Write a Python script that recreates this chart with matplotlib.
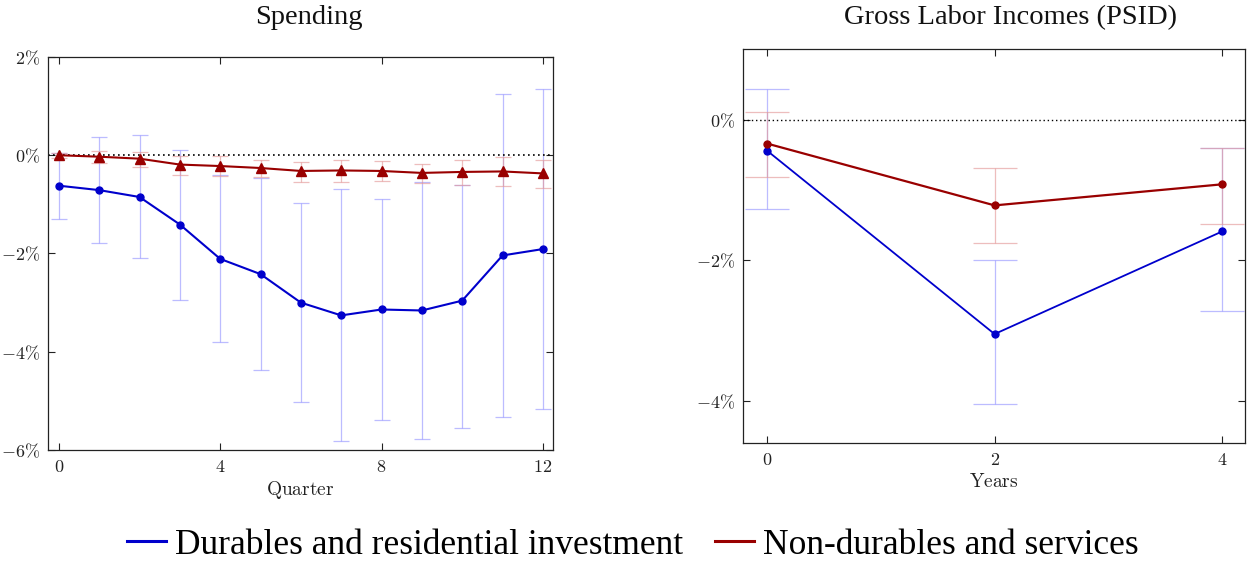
import matplotlib
matplotlib.use("Agg")
import matplotlib.pyplot as plt
from matplotlib.lines import Line2D
import numpy as np

plt.rcParams['mathtext.fontset'] = 'cm'

# ---------------- data ----------------
quarters = [0, 1, 2, 3, 4, 5, 6, 7, 8, 9, 10, 11, 12]
dur_q = [-0.62, -0.71, -0.85, -1.41, -2.11, -2.42, -3.00, -3.26, -3.14, -3.16, -2.96, -2.04, -1.91]
dur_q_hi = [0.05, 0.38, 0.41, 0.11, -0.41, -0.46, -0.97, -0.68, -0.89, -0.55, -0.61, 1.25, 1.34]
dur_q_lo = [-1.30, -1.79, -2.09, -2.94, -3.80, -4.37, -5.03, -5.81, -5.38, -5.77, -5.55, -5.32, -5.16]
nd_q = [0.0, -0.03, -0.07, -0.19, -0.22, -0.26, -0.32, -0.31, -0.32, -0.36, -0.34, -0.33, -0.37]
nd_q_hi = [0.05, 0.09, 0.07, -0.02, -0.02, -0.09, -0.13, -0.10, -0.12, -0.17, -0.09, -0.04, -0.09]
nd_q_lo = [-0.05, -0.16, -0.24, -0.40, -0.43, -0.44, -0.55, -0.54, -0.53, -0.57, -0.61, -0.62, -0.67]

years = [0, 2, 4]
dur_y = [-0.44, -3.05, -1.59]
dur_y_hi = [0.44, -2.00, -0.41]
dur_y_lo = [-1.27, -4.04, -2.72]
nd_y = [-0.34, -1.22, -0.92]
nd_y_hi = [0.11, -0.69, -0.41]
nd_y_lo = [-0.81, -1.76, -1.49]

left_yticks = [2, 0, -2, -4, -6]
left_xticks = [0, 4, 8, 12]
right_yticks = [0, -2, -4]
right_xticks = [0, 2, 4]

titles = ["Spending", "Gross Labor Incomes (PSID)"]
xlabels = ["Quarter", "Years"]
legend_labels = ["Durables and residential investment", "Non-durables and services"]

BLUE = '#0000CC'
RED = '#990000'
BLUE_E = '#9999FF'
RED_E = '#E49A9A'
SERIF = ['Liberation Serif', 'DejaVu Serif']

fig = plt.figure(figsize=(12.49, 5.63), dpi=100)
ax1 = fig.add_axes([0.0384, 0.2007, 0.4043, 0.6981])
ax2 = fig.add_axes([0.5949, 0.2131, 0.4019, 0.6993])


def yerr(v, lo, hi):
    v = np.asarray(v); lo = np.asarray(lo); hi = np.asarray(hi)
    return [v - lo, hi - v]


def style(ax, xt, yt):
    ax.set_xticks(xt)
    ax.set_xticklabels([r'$%d$' % t for t in xt])
    ax.set_yticks(yt)
    ax.set_yticklabels([r'$%d\%%$' % t for t in yt])
    ax.tick_params(direction='in', top=True, right=True, length=5, width=0.8,
                   labelsize=13, colors='#222222', pad=6)
    for s in ax.spines.values():
        s.set_color('#222222')
        s.set_linewidth(0.9)


# left panel
ax1.errorbar(quarters, dur_q, yerr=yerr(dur_q, dur_q_lo, dur_q_hi), fmt='none',
             ecolor=BLUE_E, elinewidth=0.9, capsize=6, capthick=0.9, alpha=0.65, zorder=1)
ax1.errorbar(quarters, nd_q, yerr=yerr(nd_q, nd_q_lo, nd_q_hi), fmt='none',
             ecolor=RED_E, elinewidth=0.9, capsize=6, capthick=0.9, alpha=0.65, zorder=1)
ax1.axhline(0, color='black', linestyle=(0, (1, 2)), linewidth=1.2, zorder=2)
ax1.plot(quarters, dur_q, color=BLUE, marker='o', markersize=5, linewidth=1.5, zorder=3)
ax1.plot(quarters, nd_q, color=RED, marker='^', markersize=6.5, linewidth=1.5, zorder=3)
ax1.set_xlim(-0.27, 12.25)
ax1.set_ylim(-6, 2)
style(ax1, left_xticks, left_yticks)
ax1.set_xlabel(r'$\mathrm{%s}$' % xlabels[0], fontsize=14, color='#222222', labelpad=2)

# right panel
ax2.errorbar(years, dur_y, yerr=yerr(dur_y, dur_y_lo, dur_y_hi), fmt='none',
             ecolor=BLUE_E, elinewidth=0.9, capsize=16, capthick=0.9, alpha=0.65, zorder=1)
ax2.errorbar(years, nd_y, yerr=yerr(nd_y, nd_y_lo, nd_y_hi), fmt='none',
             ecolor=RED_E, elinewidth=0.9, capsize=16, capthick=0.9, alpha=0.65, zorder=1)
ax2.axhline(0, color='black', linestyle=(0, (1, 2)), linewidth=1.0, zorder=2)
ax2.plot(years, dur_y, color=BLUE, marker='o', markersize=5, linewidth=1.3, zorder=3)
ax2.plot(years, nd_y, color=RED, marker='o', markersize=5, linewidth=1.6, zorder=3)
ax2.set_xlim(-0.21, 4.2)
ax2.set_ylim(-4.6, 1.0)
style(ax2, right_xticks, right_yticks)
ax2.set_xlabel(r'$\mathrm{%s}$' % xlabels[1], fontsize=14, color='#222222', labelpad=2)

fig.text(309 / 1249, 1 - 18 / 563, titles[0], ha='center', va='center',
         fontsize=20.5, family=SERIF, color='#111111')
fig.text(1010 / 1249, 1 - 18 / 563, titles[1], ha='center', va='center',
         fontsize=20.5, family=SERIF, color='#111111')

handles = [Line2D([], [], color=BLUE, linewidth=2.2),
           Line2D([], [], color=RED, linewidth=2.2)]
fig.legend(handles, legend_labels, loc='center', bbox_to_anchor=(0.5068, 1 - 545 / 563),
           ncol=2, frameon=False, prop={'family': SERIF, 'size': 25.5},
           handlelength=1.1, handletextpad=0.25, columnspacing=0.9)

fig.savefig('out.png', dpi=100)
